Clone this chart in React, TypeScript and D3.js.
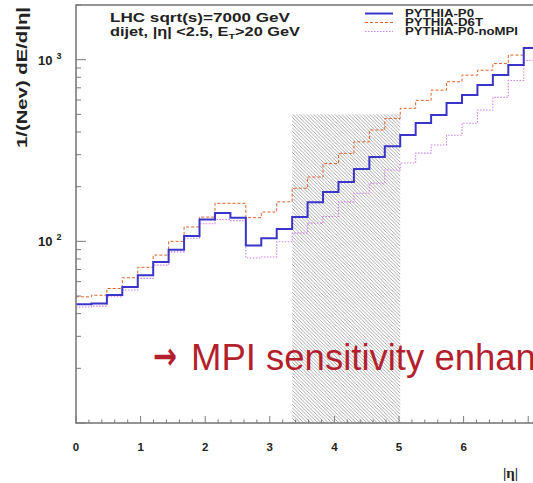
import React, { useEffect, useRef } from 'react';
import * as d3 from 'd3';

// eta bin low edges (31 edges -> 30 bins)
const etaEdges = [0, 0.239, 0.478, 0.717, 0.956, 1.195, 1.434, 1.673, 1.912, 2.151, 2.39, 2.629, 2.868, 3.107, 3.346, 3.585, 3.824, 4.063, 4.302, 4.541, 4.78, 5.019, 5.258, 5.497, 5.736, 5.975, 6.214, 6.453, 6.692, 6.931, 7.17];

const p0 = [45, 45.5, 50.6, 56, 65, 77, 90, 107, 132, 143, 135, 95, 104, 117, 136, 164, 187, 212, 250, 291, 334, 385, 448, 496, 577, 639, 725, 823, 934, 1160];
const d6t = [49.5, 50.5, 55, 63, 72, 84, 100, 120, 136, 162, 162, 135, 145, 165, 196, 226, 268, 305, 353, 410, 475, 540, 597, 680, 756, 822, 875, 952, 1060, 1170];
const noMPI = [43.5, 44, 49.5, 54, 62.5, 74, 87.5, 104, 125, 132, 130, 81, 82, 99.5, 111, 126, 137, 165, 184, 209, 247, 270, 306, 339, 384, 447, 528, 620, 768, 990];

const seriesNames = ['PYTHIA-P0', 'PYTHIA-D6T', 'PYTHIA-P0-noMPI'];
const legendWidths = [69, 78, 113];
const xTicks = [0, 1, 2, 3, 4, 5, 6];
const hfRegion = [3.346, 5.019];
const hfTop = 500;

const App = () => {
  const svgRef = useRef<SVGSVGElement>(null);

  const width = 533, height = 483;
  const margin = { top: 5, left: 76, bottom: 423 };

  useEffect(() => {
    const svg = d3.select(svgRef.current);
    svg.selectAll('*').remove();

    const x = d3.scaleLinear().domain([0, 8]).range([margin.left, margin.left + 8 * 64.6]);
    const y = d3.scaleLog().domain([10, 2000]).range([margin.bottom, margin.top]);

    const defs = svg.append('defs');
    const pat = defs.append('pattern')
      .attr('id', 'hatch')
      .attr('patternUnits', 'userSpaceOnUse')
      .attr('width', 3.5).attr('height', 3.5);
    pat.append('path')
      .attr('d', 'M-1,-1 L4.5,4.5 M-1,2.5 L1,4.5 M2.5,-1 L4.5,1')
      .attr('stroke', '#666').attr('stroke-width', 0.8);

    // hatched HF region
    svg.append('rect')
      .attr('x', x(hfRegion[0]))
      .attr('y', y(hfTop))
      .attr('width', x(hfRegion[1]) - x(hfRegion[0]))
      .attr('height', y(10) - y(hfTop))
      .attr('fill', 'url(#hatch)')
      .attr('opacity', 0.7);

    const stepLine = (vals: number[]) => {
      const pts: [number, number][] = vals.map((v, i) => [etaEdges[i], v]);
      pts.push([etaEdges[vals.length], vals[vals.length - 1]]);
      return d3.line<[number, number]>()
        .x(d => x(d[0]))
        .y(d => y(d[1]))
        .curve(d3.curveStepAfter)(pts);
    };

    const styles = [
      { data: p0, color: '#3a35c8', width: 2, dash: null },
      { data: d6t, color: '#e0602a', width: 1, dash: '3,2' },
      { data: noMPI, color: '#d67ef2', width: 1.1, dash: '1.5,1.5' },
    ];

    [styles[2], styles[1], styles[0]].forEach(s => {
      svg.append('path')
        .attr('d', stepLine(s.data))
        .attr('fill', 'none')
        .attr('stroke', s.color)
        .attr('stroke-width', s.width)
        .attr('stroke-dasharray', s.dash);
    });

    // frame
    svg.append('rect')
      .attr('x', margin.left).attr('y', margin.top)
      .attr('width', 600).attr('height', margin.bottom - margin.top)
      .attr('fill', 'none').attr('stroke', '#7a7a7a').attr('stroke-width', 1.6);

    // x ticks
    const xMinor = d3.range(0, 7.21, 0.2);
    svg.append('g').selectAll('line').data(xMinor).join('line')
      .attr('x1', d => x(d)).attr('x2', d => x(d))
      .attr('y1', margin.bottom)
      .attr('y2', d => margin.bottom - (Math.abs(d - Math.round(d)) < 1e-6 ? 7 : 3.5))
      .attr('stroke', '#7a7a7a').attr('stroke-width', 1);

    svg.append('g').selectAll('text').data(xTicks).join('text')
      .attr('x', d => x(d)).attr('y', 451)
      .attr('text-anchor', 'middle')
      .attr('font-family', 'Liberation Sans, Arial, sans-serif')
      .attr('font-weight', 'bold').attr('font-size', 11.5)
      .attr('fill', '#222')
      .text(d => d);

    // y ticks (log)
    const yMinor: number[] = [];
    [10, 100, 1000].forEach(dec => {
      for (let k = 1; k < 10; k++) if (dec * k <= 2000 && dec * k >= 10) yMinor.push(dec * k);
    });
    svg.append('g').selectAll('line').data(yMinor).join('line')
      .attr('x1', margin.left)
      .attr('x2', d => margin.left + ([10, 100, 1000].includes(d) ? 10 : 5))
      .attr('y1', d => y(d)).attr('y2', d => y(d))
      .attr('stroke', '#7a7a7a').attr('stroke-width', 1);

    [2, 3].forEach(p => {
      const t = svg.append('text')
        .attr('x', 38).attr('y', y(Math.pow(10, p)) + 5)
        .attr('font-family', 'Liberation Sans, Arial, sans-serif')
        .attr('font-weight', 'bold').attr('font-size', 13)
        .attr('fill', '#222');
      t.append('tspan').text('10');
      t.append('tspan').attr('dx', 4).attr('dy', -6).attr('font-size', 9).text(String(p));
    });

    // y title
    svg.append('text')
      .attr('transform', 'translate(27,7) rotate(-90)')
      .attr('text-anchor', 'end')
      .attr('font-family', 'Liberation Sans, Arial, sans-serif')
      .attr('font-weight', 'bold').attr('font-size', 15)
      .attr('textLength', 141).attr('lengthAdjust', 'spacingAndGlyphs')
      .attr('fill', '#222')
      .text('1/(Nev) dE/d|η|');

    // x title
    svg.append('text')
      .attr('x', 503).attr('y', 478)
      .attr('font-family', 'Liberation Serif, Times New Roman, serif')
      .attr('font-weight', 'bold').attr('font-size', 15)
      .attr('fill', '#222')
      .text('|η|');

    // labels
    svg.append('text')
      .attr('x', 110).attr('y', 22)
      .attr('font-family', 'Liberation Sans, Arial, sans-serif')
      .attr('font-weight', 'bold').attr('font-size', 12)
      .attr('textLength', 180).attr('lengthAdjust', 'spacingAndGlyphs')
      .attr('fill', '#222')
      .text('LHC sqrt(s)=7000 GeV');
    const l2 = svg.append('text')
      .attr('x', 110).attr('y', 36)
      .attr('font-family', 'Liberation Sans, Arial, sans-serif')
      .attr('font-weight', 'bold').attr('font-size', 12)
      .attr('textLength', 190).attr('lengthAdjust', 'spacingAndGlyphs')
      .attr('fill', '#222');
    l2.append('tspan').text('dijet, |η| <2.5, E');
    l2.append('tspan').attr('dy', 3).attr('font-size', 8).text('T');
    l2.append('tspan').attr('dy', -3).text('>20 GeV');

    // legend
    const legY = [13.5, 22.5, 31.5];
    styles.forEach((s, i) => {
      svg.append('line')
        .attr('x1', 365).attr('x2', 393)
        .attr('y1', legY[i]).attr('y2', legY[i])
        .attr('stroke', s.color).attr('stroke-width', s.width)
        .attr('stroke-dasharray', s.dash);
      svg.append('text')
        .attr('x', 405).attr('y', legY[i] + 3.6)
        .attr('font-family', 'Liberation Sans, Arial, sans-serif')
        .attr('font-weight', 'bold').attr('font-size', 10)
        .attr('textLength', legendWidths[i]).attr('lengthAdjust', 'spacingAndGlyphs')
        .attr('fill', '#222')
        .text(seriesNames[i]);
    });

    // annotation
    svg.append('text')
      .attr('x', 153).attr('y', 369)
      .attr('font-family', 'DejaVu Sans, sans-serif')
      .attr('font-weight', 'bold').attr('font-size', 38)
      .attr('textLength', 24).attr('lengthAdjust', 'spacingAndGlyphs')
      .attr('fill', '#b41f2e')
      .text('→');
    svg.append('text')
      .attr('x', 191).attr('y', 370)
      .attr('font-family', 'Liberation Sans, Arial, sans-serif')
      .attr('font-size', 36.5)
      .attr('fill', '#b41f2e')
      .text('MPI sensitivity enhanced');
  }, []);

  return (
    <svg ref={svgRef} width={width} height={height}
      style={{ position: 'absolute', left: 0, top: 0, background: '#fff' }} />
  );
};

export default App;
